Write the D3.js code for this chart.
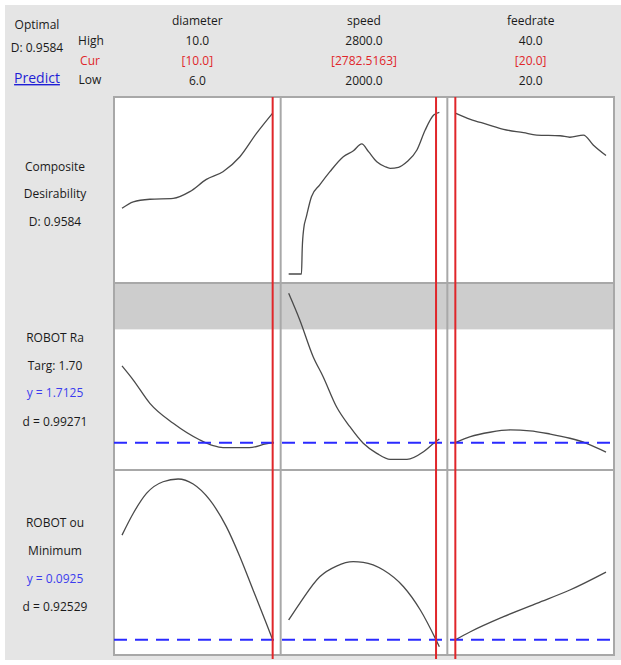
<!DOCTYPE html>
<html><head><meta charset="utf-8">
<script src="https://cdn.jsdelivr.net/npm/d3@7"></script>
<style>
body{margin:0;background:#fff;}
svg text{font-family:"Open Sans","Noto Sans",sans-serif;font-size:12px;}
</style></head>
<body><svg id="c" width="621" height="665"></svg>
<script>
// ---- factors ----
const factors = ["diameter", "speed", "feedrate"];
const highLabels = ["10.0", "2800.0", "40.0"];
const curLabels = ["[10.0]", "[2782.5163]", "[20.0]"];
const lowLabels = ["6.0", "2000.0", "20.0"];
const lowVals = [6, 2000, 20];
const highVals = [10, 2800, 40];
const curVals = [10, 2782.5163, 20];

// ---- responses (rows) ----
const rowLabels = [
  [{t:"Composite",c:"k"},{t:"Desirability",c:"k"},{t:"D: 0.9584",c:"k"}],
  [{t:"ROBOT Ra",c:"k"},{t:"Targ: 1.70",c:"k"},{t:"y = 1.7125",c:"b"},{t:"d = 0.99271",c:"k"}],
  [{t:"ROBOT ou",c:"k"},{t:"Minimum",c:"k"},{t:"y = 0.0925",c:"b"},{t:"d = 0.92529",c:"k"}]
];
const yDomains = [[0, 1], [1.60, 2.64], [0.088, 0.210]];
const yCurrent = [null, 1.7125, 0.0925];
const raUpperLimit = 2.41;

// Composite desirability curves
const diamDX = [6.0, 6.3, 6.74, 7.36, 7.8, 8.24, 8.68, 9.13, 9.57, 10.0];
const diamDY = [0.391, 0.430, 0.445, 0.450, 0.490, 0.563, 0.609, 0.698, 0.837, 0.958];
const speedDX = [2000, 2068, 2072, 2080, 2094, 2121, 2165, 2219, 2290, 2344, 2388, 2424, 2468, 2510, 2539, 2583, 2628, 2681, 2725, 2770, 2800];
const speedDY = [0, 0, 0.15, 0.27, 0.341, 0.46, 0.53, 0.609, 0.698, 0.734, 0.774, 0.728, 0.668, 0.640, 0.629, 0.635, 0.668, 0.738, 0.857, 0.946, 0.962];
const feedDX = [20, 22, 24.2, 26.4, 29.05, 30.8, 33.9, 35.2, 37, 38.3, 40];
const feedDY = [0.958, 0.921, 0.891, 0.861, 0.841, 0.827, 0.823, 0.814, 0.827, 0.768, 0.705];

// ROBOT Ra curves
const diamRaX = [6.0, 6.3, 6.74, 7.36, 8.07, 8.42, 8.68, 9.38, 9.82, 10.0];
const diamRaY = [2.185, 2.098, 1.955, 1.832, 1.729, 1.694, 1.682, 1.682, 1.705, 1.7125];
const speedRaX = [2000, 2059, 2130, 2183, 2254, 2325, 2396, 2468, 2539, 2628, 2716, 2770, 2800];
const speedRaY = [2.632, 2.468, 2.242, 2.119, 1.934, 1.811, 1.709, 1.647, 1.610, 1.610, 1.657, 1.709, 1.735];
const feedRaX = [20, 22, 24.6, 27.3, 29.9, 32.6, 35.2, 37.4, 40];
const feedRaY = [1.7125, 1.750, 1.777, 1.791, 1.786, 1.766, 1.740, 1.709, 1.655];

// ROBOT ou curves
const diamOuX = [6.0, 6.3, 6.65, 7.09, 7.49, 7.89, 8.33, 8.77, 9.13, 9.48, 9.83, 10.0];
const diamOuY = [0.169, 0.185, 0.1995, 0.208, 0.210, 0.2063, 0.1947, 0.1752, 0.1532, 0.1289, 0.1046, 0.0925];
const speedOuX = [2000, 2059, 2165, 2254, 2343, 2396, 2503, 2610, 2699, 2782.5, 2800];
const speedOuY = [0.107, 0.1192, 0.1386, 0.1464, 0.1496, 0.1491, 0.1435, 0.1313, 0.1143, 0.0925, 0.0875];
const feedOuX = [20, 22, 26.4, 30.8, 35.2, 40];
const feedOuY = [0.0925, 0.0984, 0.1094, 0.1192, 0.1289, 0.1420];

const curves = [
  [[diamDX, diamDY], [speedDX, speedDY], [feedDX, feedDY]],
  [[diamRaX, diamRaY], [speedRaX, speedRaY], [feedRaX, feedRaY]],
  [[diamOuX, diamOuY], [speedOuX, speedOuY], [feedOuX, feedOuY]]
];

// ---- layout ----
const svg = d3.select("#c");
const L = 114, R = 614, T = 97, B = 655;
const colW = (R - L) / 3;
const rowEdges = [97, 283, 470, 655];
const padX = 8, padY = 9;
const RED = "#e0262a", BLUE = "#2a2aff", TBLUE = "#3c3cee", GRID = "#a8a8a8";

svg.append("rect").attr("x", 5).attr("y", 5).attr("width", 616).attr("height", 655).attr("fill", "#e5e5e5");
svg.append("rect").attr("x", L).attr("y", T).attr("width", R - L).attr("height", B - T).attr("fill", "#fff");

const xScales = factors.map((f, i) => d3.scaleLinear().domain([lowVals[i], highVals[i]])
  .range([L + i * colW + padX, L + (i + 1) * colW - padX]));
const yScales = yDomains.map((d, r) => d3.scaleLinear().domain(d)
  .range([rowEdges[r + 1] - padY, rowEdges[r] + padY]));

// gray band (Ra above upper limit)
svg.append("rect").attr("x", L).attr("y", rowEdges[1])
  .attr("width", R - L).attr("height", yScales[1](raUpperLimit) - rowEdges[1]).attr("fill", "#cdcdcd");

// grid lines
for (let i = 1; i < 3; i++) {
  svg.append("line").attr("x1", L + i * colW).attr("x2", L + i * colW).attr("y1", T).attr("y2", B)
    .attr("stroke", GRID).attr("stroke-width", 2);
  svg.append("line").attr("x1", L).attr("x2", R).attr("y1", rowEdges[i]).attr("y2", rowEdges[i])
    .attr("stroke", GRID).attr("stroke-width", 2);
}
svg.append("rect").attr("x", L).attr("y", T).attr("width", R - L).attr("height", B - T)
  .attr("fill", "none").attr("stroke", GRID).attr("stroke-width", 2);

// curves
curves.forEach((row, r) => {
  row.forEach((cv, c) => {
    const pts = cv[0].map((x, k) => [x, cv[1][k]]);
    const line = d3.line().x(d => xScales[c](d[0])).y(d => yScales[r](d[1])).curve(d3.curveMonotoneX);
    svg.append("path").attr("d", line(pts)).attr("fill", "none")
      .attr("stroke", "#4a4a4a").attr("stroke-width", 1.3);
  });
});

// current y dashed lines
yCurrent.forEach((v, r) => {
  if (v === null) return;
  svg.append("line").attr("x1", L).attr("x2", R).attr("y1", yScales[r](v)).attr("y2", yScales[r](v))
    .attr("stroke", BLUE).attr("stroke-width", 2).attr("stroke-dasharray", "13,8");
});

// red current setting lines
curVals.forEach((v, i) => {
  svg.append("line").attr("x1", xScales[i](v)).attr("x2", xScales[i](v)).attr("y1", T).attr("y2", 659)
    .attr("stroke", RED).attr("stroke-width", 2);
});

// header texts
function txt(x, y, t, col, size, anchor) {
  return svg.append("text").attr("x", x).attr("y", y).attr("text-anchor", anchor || "middle")
    .attr("fill", col || "#1a1a1a").style("font-size", (size || 12) + "px").text(t);
}
factors.forEach((f, i) => {
  const cx = L + (i + 0.5) * colW;
  txt(cx, 25, f);
  txt(cx, 45, highLabels[i]);
  txt(cx, 65, curLabels[i], RED);
  txt(cx, 85, lowLabels[i]);
});
txt(37, 29, "Optimal");
txt(37, 52, "D: 0.9584");
txt(91, 45, "High");
txt(90, 65, "Cur", RED);
txt(90, 84, "Low");
const pr = txt(37, 83, "Predict", "#1f1fd6", 14);
pr.style("text-decoration", "underline");

// row labels
const rowLabelY = [[166.7, 194, 221.7], [338.3, 366, 393.3, 421.7], [523.3, 550.7, 579, 606.7]];
rowLabels.forEach((lab, r) => {
  lab.forEach((l, k) => {
    txt(55, rowLabelY[r][k] + 4, l.t, l.c === "b" ? TBLUE : "#1a1a1a");
  });
});
</script></body></html>
